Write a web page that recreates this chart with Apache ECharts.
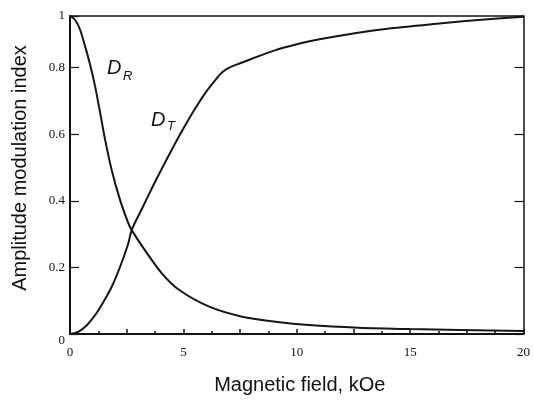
<!DOCTYPE html>
<html>
<head>
<meta charset="utf-8">
<script src="https://cdn.jsdelivr.net/npm/echarts@6/dist/echarts.min.js"></script>
<style>
  html, body { margin: 0; padding: 0; background: #fff; }
  #chart { width: 533px; height: 400px; }
</style>
</head>
<body>
<div id="chart"></div>
<script>
// values (y in the plot's own linear scale, top edge ~0.955 labelled "1")
var fieldR = [0, 0.23, 0.45, 0.67, 0.89, 1.11, 1.33, 1.55, 1.84, 2.21, 2.57, 2.72, 3.3, 4.04, 4.82, 6.14, 7.59, 9.07, 10.53, 12.72, 15, 20]
var dR = [0.955, 0.943, 0.913, 0.863, 0.808, 0.743, 0.664, 0.583, 0.492, 0.402, 0.333, 0.312, 0.252, 0.183, 0.132, 0.082, 0.052, 0.037, 0.027, 0.019, 0.015, 0.009]

var fieldT = [0, 0.38, 0.75, 1.11, 1.48, 1.84, 2.21, 2.57, 2.72, 3.2, 3.6, 4.0, 4.5, 5.0, 5.5, 6.0, 6.4, 6.7, 7.0, 7.5, 8.0, 9.0, 10.0, 11.0, 12.7, 14, 16.4, 18, 20]
var dT = [0, 0.007, 0.027, 0.057, 0.097, 0.142, 0.202, 0.272, 0.312, 0.38, 0.436, 0.49, 0.555, 0.617, 0.675, 0.727, 0.762, 0.785, 0.799, 0.813, 0.826, 0.851, 0.87, 0.885, 0.905, 0.917, 0.933, 0.943, 0.953]

var yMax = 0.955

function pairs(xs, ys) {
  return xs.map(function (x, i) { return [x, ys[i]] })
}

var chart = echarts.init(document.getElementById('chart'))
var serif = '"Liberation Serif", "DejaVu Serif", serif'
var sans = '"Liberation Sans", Arial, sans-serif'
var lineCol = '#151515'

chart.setOption({
  backgroundColor: '#FFFFFF',
  animation: false,
  grid: { left: 70, right: 7, top: 16, bottom: 66 },
  xAxis: [
    {
      type: 'value',
      min: 0,
      max: 20,
      interval: 2.5,
      name: 'Magnetic field, kOe',
      nameLocation: 'middle',
      nameGap: 41,
      nameTextStyle: { fontFamily: sans, fontSize: 20, color: '#111', padding: [0, 0, 0, 6] },
      axisLine: { lineStyle: { color: '#111', width: 2 } },
      axisTick: { inside: true, length: 5, lineStyle: { color: '#111', width: 1.5 } },
      minorTick: { show: true, splitNumber: 2, length: 3, lineStyle: { color: '#111', width: 1.5 } },
      splitLine: { show: false },
      axisLabel: {
        margin: 12,
        fontFamily: serif,
        fontSize: 13,
        color: '#111',
        formatter: function (v) { return v % 5 === 0 ? String(v) : '' }
      }
    },
    {
      type: 'value',
      min: 0,
      max: 20,
      position: 'top',
      axisLine: { show: true, onZero: false, lineStyle: { color: '#111', width: 1.5 } },
      axisTick: { show: false },
      axisLabel: { show: false },
      splitLine: { show: false }
    }
  ],
  yAxis: [
    {
      type: 'value',
      min: 0,
      max: yMax,
      interval: 0.2,
      axisLine: { show: true, lineStyle: { color: '#111', width: 2 } },
      axisTick: { inside: true, length: 9, lineStyle: { color: '#111', width: 1.2 } },
      splitLine: { show: false },
      axisLabel: {
        margin: 5,
        fontFamily: serif,
        fontSize: 13,
        color: '#111',
        formatter: function (v) {
          if (v > 0.9) return '1'
          if (v === 0) return ''
          return v.toFixed(1)
        }
      }
    },
    {
      type: 'value',
      min: 0,
      max: yMax,
      interval: 0.2,
      position: 'right',
      axisLine: { show: true, onZero: false, lineStyle: { color: '#111', width: 1.5 } },
      axisTick: { inside: true, length: 9, lineStyle: { color: '#111', width: 1.2 } },
      axisLabel: { show: false },
      splitLine: { show: false }
    }
  ],
  graphic: [
    {
      type: 'text', x: 20, y: 168, rotation: Math.PI / 2,
      style: { text: 'Amplitude modulation index', font: '20px ' + sans, fill: '#111', align: 'center', verticalAlign: 'middle' }
    },
    {
      type: 'text', x: 65, y: 341,
      style: { text: '0', font: '13px ' + serif, fill: '#111', align: 'right', verticalAlign: 'middle' }
    },
    { type: 'text', x: 107, y: 58, style: { text: 'D', font: 'italic 20px ' + sans, fill: '#111' } },
    { type: 'text', x: 123, y: 70, style: { text: 'R', font: 'italic 13px ' + sans, fill: '#111' } },
    { type: 'text', x: 151, y: 110, style: { text: 'D', font: 'italic 20px ' + sans, fill: '#111' } },
    { type: 'text', x: 167, y: 120, style: { text: 'T', font: 'italic 13px ' + sans, fill: '#111' } }
  ],
  series: [
    {
      name: 'D_R',
      type: 'line',
      data: pairs(fieldR, dR),
      smooth: 0.3,
      showSymbol: false,
      lineStyle: { color: lineCol, width: 2 }
    },
    {
      name: 'D_T',
      type: 'line',
      data: pairs(fieldT, dT),
      smooth: 0.3,
      showSymbol: false,
      lineStyle: { color: lineCol, width: 2 }
    }
  ]
})
</script>
</body>
</html>
